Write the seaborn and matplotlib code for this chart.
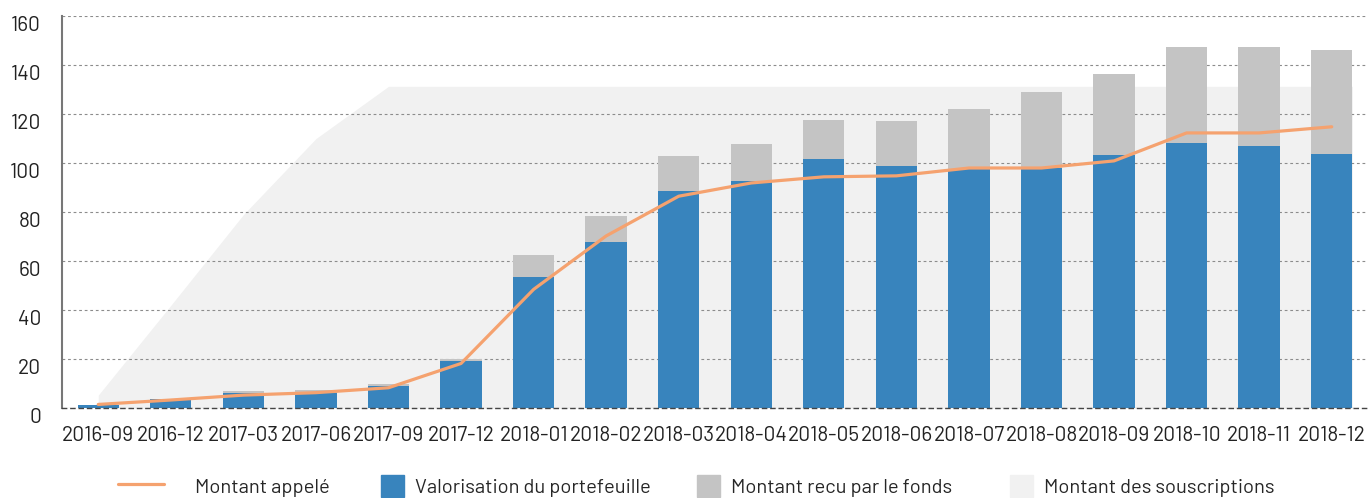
import numpy as np
import matplotlib
matplotlib.use("Agg")
import matplotlib.pyplot as plt
import seaborn as sns
from matplotlib.lines import Line2D
from matplotlib.patches import Patch

dates = ['2016-09', '2016-12', '2017-03', '2017-06', '2017-09', '2017-12',
         '2018-01', '2018-02', '2018-03', '2018-04', '2018-05', '2018-06',
         '2018-07', '2018-08', '2018-09', '2018-10', '2018-11', '2018-12']
# valorisation du portefeuille (blue)
valorisation = [1.4, 3.8, 6.1, 6.4, 9.1, 19.3, 53.5, 67.8, 88.5, 92.6, 101.6, 98.7,
                97.5, 98.0, 103.2, 108.1, 106.9, 103.6]
# valorisation + montant recu par le fonds (top of the gray bar)
total_recu = [1.4, 3.8, 7.2, 7.6, 10.0, 20.1, 62.5, 78.4, 102.8, 107.7, 117.5, 117.1,
              122.0, 128.9, 136.2, 147.2, 147.2, 146.0]
appele = [1.6, 3.4, 5.4, 6.4, 8.4, 18.3, 48.5, 70.3, 86.5, 91.9, 94.4, 94.8,
          98.0, 98.0, 100.9, 112.3, 112.3, 114.8]
souscriptions = [5.4, 42, 79, 110, 131.3, 131.3, 131.3, 131.3, 131.3, 131.3, 131.3, 131.3,
                 131.3, 131.3, 131.3, 131.3, 131.3, 131.3]
legend_labels = ['Montant appelé', 'Valorisation du portefeuille',
                 'Montant recu par le fonds', 'Montant des souscriptions']

c_blue = '#3884bd'
c_gray = '#c4c4c4'
c_light = '#f1f1f1'
c_orange = '#f5a26f'

sns.set_style("white")
plt.rcParams['font.family'] = ['Barlow', 'DejaVu Sans']

fig, ax = plt.subplots(figsize=(13.68, 4.98), dpi=100)
fig.subplots_adjust(left=0.0453, right=1.0, top=0.968, bottom=0.18)

bar_w = 0.57
x = np.arange(len(dates))

# area: from first category to the right edge of the last bar
x_area = np.append(x, x[-1] + bar_w / 2)
y_area = np.append(souscriptions, souscriptions[-1])
ax.fill_between(x_area, 0, y_area, color=c_light, lw=0, zorder=0.2)

sns.barplot(x=dates, y=total_recu, color=c_gray, width=bar_w, saturation=1,
            linewidth=0, ax=ax, zorder=2)
sns.barplot(x=dates, y=valorisation, color=c_blue, width=bar_w, saturation=1,
            linewidth=0, ax=ax, zorder=2)
sns.lineplot(x=x, y=appele, color=c_orange, lw=2.3, ax=ax, zorder=3)

ax.set_xlim(-0.5, 17.5)
ax.set_ylim(0, 160)
ax.set_yticks(range(0, 161, 20))
ax.set_axisbelow(True)
ax.yaxis.grid(True, color='#8c8c8c', linestyle=(0, (2.5, 2.5)), lw=0.8)
ax.xaxis.grid(False)

for s in ['top', 'right']:
    ax.spines[s].set_visible(False)
ax.spines['left'].set_color('#777777')
ax.spines['left'].set_linewidth(1.5)
ax.spines['bottom'].set_color('#444444')
ax.spines['bottom'].set_linestyle((0, (3, 3)))
ax.spines['bottom'].set_linewidth(1.0)

ax.tick_params(axis='y', length=0, pad=15, labelsize=15, colors='#222222')
ax.tick_params(axis='x', length=0, pad=13, labelsize=15, colors='#222222')
for lab in ax.get_yticklabels():
    lab.set_verticalalignment('top')

# legend entries placed one by one, like the reference
handles = [Line2D([0], [0], color=c_orange, lw=2.3),
           Patch(color=c_blue), Patch(color=c_gray), Patch(color=c_light)]
x_pos = [118, 381, 697, 1010]
for h, lab, xp in zip(handles, legend_labels, x_pos):
    is_line = isinstance(h, Line2D)
    fig.legend([h], [lab], loc='center left', bbox_to_anchor=(xp / 1368, 0.024),
               frameon=False, fontsize=14.5, borderpad=0, borderaxespad=0,
               handlelength=2.3 if is_line else 1.15, handleheight=1.3,
               handletextpad=1.5 if is_line else 0.55)

fig.savefig('out.png', dpi=100)
